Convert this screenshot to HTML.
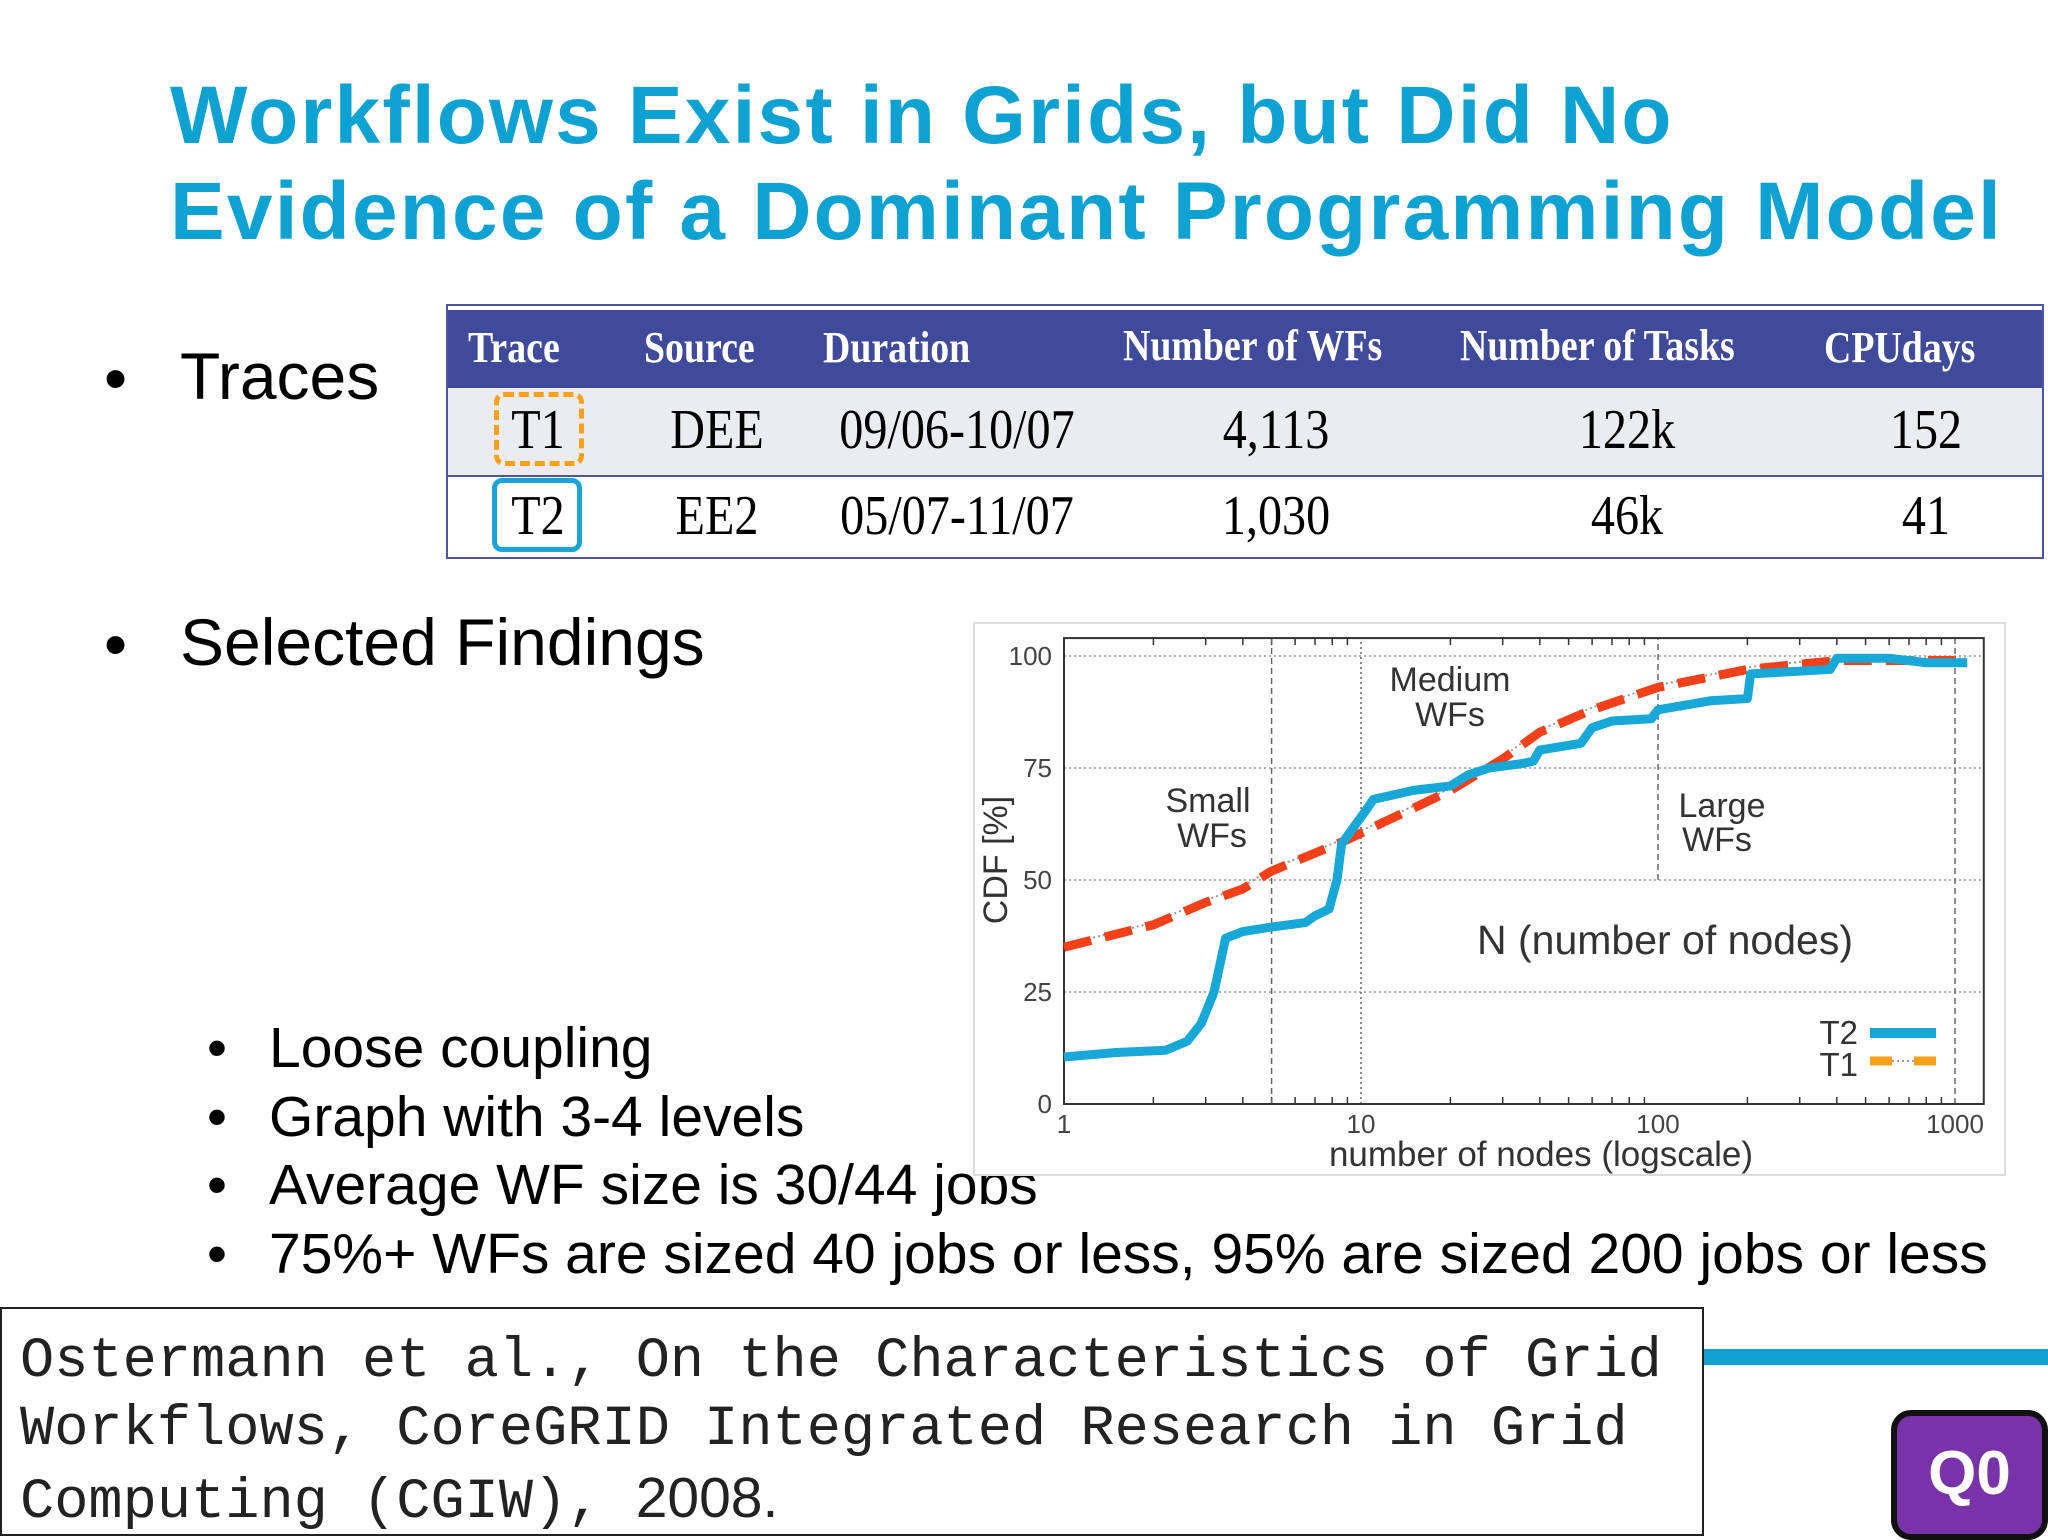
<!DOCTYPE html>
<html><head><meta charset="utf-8"><style>
body{margin:0;width:2048px;height:1536px;background:#fff;position:relative;overflow:hidden;font-family:"Liberation Sans",sans-serif}
.a{position:absolute;white-space:nowrap}
.t{font-family:"Liberation Serif",serif}
.c{transform:translateX(-50%) scaleX(0.86)}
.h{transform:scaleX(0.86);transform-origin:left center}
</style></head><body>
<div class="a" style="left:170px;top:68px;font-size:82px;font-weight:bold;color:#0ea2d2;line-height:96px;letter-spacing:2.2px">Workflows Exist in Grids, but Did No<br>Evidence of a Dominant Programming Model</div>

<div class="a" style="left:104px;top:340px;font-size:66px">•</div>
<div class="a" style="left:180px;top:338px;font-size:66px">Traces</div>
<div class="a" style="left:104px;top:606px;font-size:66px">•</div>
<div class="a" style="left:180px;top:604px;font-size:66px">Selected Findings</div>

<div style="position:absolute;left:0;top:0;font-size:57px">
<div class="a" style="left:207px;top:1015px">•</div><div class="a" style="left:269px;top:1015px">Loose coupling</div>
<div class="a" style="left:207px;top:1084px">•</div><div class="a" style="left:269px;top:1084px">Graph with 3-4 levels</div>
<div class="a" style="left:207px;top:1152px">•</div><div class="a" style="left:269px;top:1152px">Average WF size is 30/44 jobs</div>
<div class="a" style="left:207px;top:1221px">•</div><div class="a" style="left:269px;top:1221px">75%+ WFs are sized 40 jobs or less, 95% are sized 200 jobs or less</div>
</div>

<div style="position:absolute;left:446px;top:304px;width:1598px;height:255px;border:2px solid #4a55a5;box-sizing:border-box;background:#fff">
<div style="position:absolute;left:0;top:4px;width:100%;height:78px;background:#3f4a9a"></div>
<div style="position:absolute;left:0;top:82px;width:100%;height:87px;background:#ebebf2;border-bottom:2px solid #4a55a5"></div>
</div>
<div class="a t" style="left:0;top:0;color:#fff;font-weight:bold;font-size:44px">
<span class="a h" style="left:468px;top:322px">Trace</span><span class="a h" style="left:644px;top:322px">Source</span><span class="a h" style="left:823px;top:322px">Duration</span><span class="a h" style="left:1123px;top:320px">Number of WFs</span><span class="a h" style="left:1460px;top:320px">Number of Tasks</span><span class="a h" style="left:1824px;top:322px">CPUdays</span>
</div>
<div class="t" style="position:absolute;left:0;top:0;font-size:56px">
<span class="a c" style="left:538px;top:398px">T1</span><span class="a c" style="left:717px;top:398px">DEE</span><span class="a c" style="left:957px;top:398px">09/06-10/07</span><span class="a c" style="left:1276px;top:398px">4,113</span><span class="a c" style="left:1627px;top:398px">122k</span><span class="a c" style="left:1926px;top:398px">152</span>
<span class="a c" style="left:538px;top:484px">T2</span><span class="a c" style="left:717px;top:484px">EE2</span><span class="a c" style="left:957px;top:484px">05/07-11/07</span><span class="a c" style="left:1276px;top:484px">1,030</span><span class="a c" style="left:1627px;top:484px">46k</span><span class="a c" style="left:1926px;top:484px">41</span>
</div>
<div class="a" style="left:494px;top:392px;width:80px;height:64px;border:5px dashed #f7a01c;border-radius:10px"></div>
<div class="a" style="left:492px;top:478px;width:80px;height:64px;border:5px solid #1aa5d6;border-radius:10px"></div>

<svg class="a" style="left:0;top:0" width="2048" height="1536" id="chart"></svg>

<div class="a" style="left:0;top:1307px;width:1704px;height:229px;border:2px solid #222;box-sizing:border-box;background:#fff"></div>
<div class="a" style="left:20px;top:1328px;font-family:'Liberation Mono',monospace;font-size:57px;line-height:68px;color:#222">Ostermann et al., On the Characteristics of Grid<br>Workflows, CoreGRID Integrated Research in Grid<br>Computing (CGIW), <span style="font-family:'Liberation Sans',sans-serif">2008.</span></div>
<div class="a" style="left:1704px;top:1349px;width:344px;height:16px;background:#0ea2d2"></div>
<div class="a" style="left:1891px;top:1410px;width:157px;height:130px;background:#7a32a8;border:6px solid #111;border-radius:20px;box-sizing:border-box;color:#fff;font-weight:bold;font-size:62px;text-align:center;line-height:116px">Q0</div>

<script>
const t2x=[1,1.5,2.2,2.6,2.9,3.2,3.5,4,5,6.5,7,7.8,8.3,8.6,9.5,10.5,11,15,20,23,27,35,38,40,55,60,70,95,100,150,200,205,380,400,600,800,1100];
const t2y=[10.5,11.5,12,14,18,25,37,38.5,39.5,40.5,42,43.5,50,58,62,66,68,70,71,73.5,75,76,76.5,79,80.5,84,85.5,86,88,90,90.5,96,97,99.5,99.5,98.5,98.5];
const t1x=[1,2,3,4,5,7,9,12,15,20,30,40,60,100,200,400,600,1100];
const t1y=[35,40,45,48,52,56,59,63,66,70,77,83,88,93,97,99,99,99];
const yTicks=[0,25,50,75,100];
const xTicks=[1,10,100,1000];
const svg=document.getElementById('chart');const NS='http://www.w3.org/2000/svg';
const X0=1064,DEC=297,Y0=1104,YS=4.48;
const sx=v=>X0+Math.log10(v)*DEC, sy=v=>Y0-v*YS;
const L=1064,R=sx(1250),T=sy(104),B=Y0;
function mk(tag,at,txt){const e=document.createElementNS(NS,tag);for(const k in at)e.setAttribute(k,at[k]);if(txt!=null)e.textContent=txt;svg.appendChild(e);return e;}
let e=mk('rect',{x:974,y:623,width:1031,height:552,fill:'#fff',stroke:'#ddd','stroke-width':2});


yTicks.forEach(v=>{
 const g=mk('line',{x1:L,x2:R,y1:sy(v),y2:sy(v),stroke:'#999','stroke-width':1.5,'stroke-dasharray':'2 3'});
 
 
 const t=mk('text',{x:L-12,y:sy(v)+9,'text-anchor':'end','font-size':26,fill:'#444'},v);
 
 
});
xTicks.forEach(v=>{
 const t=mk('text',{x:sx(v),y:B+29,'text-anchor':'middle','font-size':26,fill:'#444'},v);
 
 
});
for(let d=0;d<4;d++)for(let k=2;k<10;k++){const v=Math.pow(10,d)*k;if(v>1250)break;
 mk('line',{x1:sx(v),x2:sx(v),y1:B,y2:B-7,stroke:'#333','stroke-width':1.5});mk('line',{x1:sx(v),x2:sx(v),y1:T,y2:T+7,stroke:'#333','stroke-width':1.5});}
[[5,0,104,'6 4'],[10,0,104,'2 3'],[100,50,104,'6 4'],[1000,0,104,'6 4']].forEach(a=>{
 const g=mk('line',{x1:sx(a[0]),x2:sx(a[0]),y1:sy(a[1]),y2:sy(a[2]),stroke:'#666','stroke-width':1.5,'stroke-dasharray':a[3]});
 
 
});
e=mk('rect',{x:L,y:T,width:R-L,height:B-T,fill:'none',stroke:'#333','stroke-width':2});


function pts(xs,ys){return xs.map((x,i)=>sx(x)+','+sy(ys[i])).join(' ');}
e=mk('polyline',{points:pts(t1x,t1y.map(v=>v+0.5)),fill:'none',stroke:'#999','stroke-width':2,'stroke-dasharray':'2 3'});


e=mk('polyline',{points:pts(t1x,t1y),fill:'none',stroke:'#f2411a','stroke-width':9,'stroke-dasharray':'28 14'});


e=mk('polyline',{points:pts(t2x,t2y),fill:'none',stroke:'#18a8d8','stroke-width':9,'stroke-linejoin':'round'});


const labels=[['Small',1208,812,34],['WFs',1212,847,34],['Medium',1450,691,34],['WFs',1450,726,34],['Large',1722,817,34],['WFs',1717,851,34],['N (number of nodes)',1665,954,41]];
labels.forEach(l=>{const t=mk('text',{x:l[1],y:l[2],'text-anchor':'middle','font-size':l[3],fill:'#333'},l[0]);
 
 });
e=mk('text',{x:1541,y:1166,'text-anchor':'middle','font-size':35,fill:'#333'},'number of nodes (logscale)');


e=mk('text',{x:1007,y:860,'text-anchor':'middle','font-size':34,fill:'#333',transform:'rotate(-90 1007 860)'},'CDF [%]');


e=mk('text',{x:1858,y:1044,'text-anchor':'end','font-size':33,fill:'#333'},'T2');


e=mk('line',{x1:1870,x2:1936,y1:1033,y2:1033,stroke:'#18a8d8','stroke-width':10});


e=mk('text',{x:1858,y:1076,'text-anchor':'end','font-size':33,fill:'#333'},'T1');


e=mk('line',{x1:1870,x2:1936,y1:1061,y2:1061,stroke:'#f7a01c','stroke-width':9,'stroke-dasharray':'22 22'});


mk('line',{x1:1892,x2:1914,y1:1061,y2:1061,stroke:'#999','stroke-width':2,'stroke-dasharray':'2 3'});
</script>
</body></html>
